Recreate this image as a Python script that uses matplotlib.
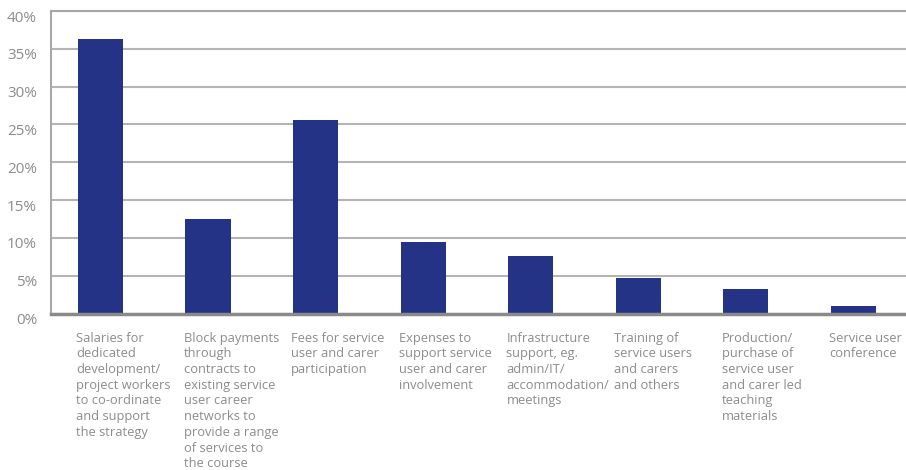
import matplotlib.pyplot as plt
import matplotlib.transforms as mtransforms

#======= Data ================================
categories = [
    'Salaries for\ndedicated\ndevelopment/\nproject workers\nto co-ordinate\nand support\nthe strategy',
    'Block payments\nthrough\ncontracts to\nexisting service\nuser career\nnetworks to\nprovide a range\nof services to\nthe course',
    'Fees for service\nuser and carer\nparticipation',
    'Expenses to\nsupport service\nuser and carer\ninvolvement',
    'Infrastructure\nsupport, eg.\nadmin/IT/\naccommodation/\nmeetings',
    'Training of\nservice users\nand carers\nand others',
    'Production/\npurchase of\nservice user\nand carer led\nteaching\nmaterials',
    'Service user\nconference',
]
values = [36.3, 12.5, 25.6, 9.45, 7.6, 4.7, 3.25, 1.0]
y_ticks = [0, 5, 10, 15, 20, 25, 30, 35, 40]

#======= Plot ================================
bar_color = '#253386'
text_color = '#8c8c8c'
grid_color = '#b4b4b4'
font = 'Open Sans'

fig = plt.figure(figsize=(9.06, 4.70), dpi=100)
ax = fig.add_axes([51 / 906, 1 - 313.5 / 470, 1 - 51 / 906, (313.5 - 11) / 470])

x = list(range(len(values)))
width = 0.42
ax.bar(x, values, width=width, color=bar_color, zorder=3)

ax.set_xlim(-0.46, 7.49)
ax.set_ylim(0, 40)

ax.set_yticks(y_ticks)
ax.set_yticklabels([f'{t}%' for t in y_ticks], fontsize=11, color=text_color, family=font)
ax.tick_params(axis='y', length=0, pad=10)
ax.set_xticks([])
# push y labels a bit down like the original
offset = mtransforms.ScaledTranslation(0, -5 / 100, fig.dpi_scale_trans)
for lbl in ax.get_yticklabels():
    lbl.set_transform(lbl.get_transform() + offset)

ax.grid(axis='y', color=grid_color, linewidth=1.5, zorder=0)

for side in ['left', 'top']:
    ax.spines[side].set_color('#a8a8a8')
    ax.spines[side].set_linewidth(1.5)
ax.spines['right'].set_visible(False)
ax.spines['bottom'].set_color('#8a8a8a')
ax.spines['bottom'].set_linewidth(2.5)
ax.spines['bottom'].set_zorder(4)

# category labels under each bar, left aligned with the bar
trans = mtransforms.blended_transform_factory(ax.transData, ax.transAxes)
for i, label in enumerate(categories):
    ax.text(i - width / 2 - 0.015, -0.06, label, transform=trans,
            ha='left', va='top', fontsize=9.3, color=text_color,
            family=font, linespacing=1.27)

fig.savefig('out.png', dpi=100)
